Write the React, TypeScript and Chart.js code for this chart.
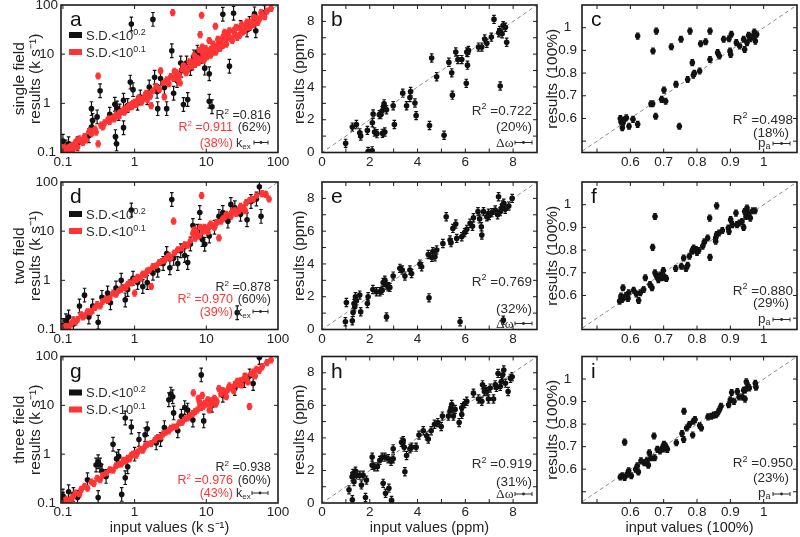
import React, { useEffect, useRef } from 'react';
import { Chart, registerables } from 'chart.js';

Chart.register(...registerables);

const SANS = '"Liberation Sans", Arial, Helvetica, sans-serif';
const SERIF = '"Liberation Serif", "Times New Roman", serif';
const DARK = '#2b2b2b';
const RED = '#ff3434';
const BLACK = '#111111';

// ---------------- data (x, y[, error]) ----------------
// log panels: error in decades; linear panels: error in axis units
const A_BLACK = [[0.1,0.17],[0.11,0.13],[0.12,0.15],[0.16,0.15],[0.23,0.22],[0.25,0.33],[0.26,0.45],[0.25,0.78],[0.3,0.53],[0.33,1.8],[0.45,0.6],[0.53,0.96],[0.54,0.21],[0.56,0.15],[0.57,0.8],[0.6,0.62],[0.62,0.7],[0.7,0.32],[0.7,1.15],[0.8,0.9],[0.87,2.7],[0.9,41],[0.95,1.9],[1.1,1.0],[1.2,1.35],[1.5,1.3],[1.6,2.15],[1.8,51],[1.9,3.4],[2.06,1.75],[2.1,0.78],[2.3,3.2],[2.6,2.1],[2.8,0.78],[3.3,11.7],[3.5,1.6],[3.9,2.9],[4.4,6.6],[4.5,4.7],[4.8,0.95],[5.3,6.6],[5.5,1.2],[6.0,5.1],[6.4,6.6],[6.7,8.8],[7.5,11],[8.5,9],[9.5,5.2],[11,4],[11,1.1],[12,0.85],[17,65],[21,5.7],[24,68],[30,35],[37,31],[40,42],[47,66],[49,30],[65,70]];
const A_RED = [[0.1,0.11],[0.105,0.13],[0.11,0.1],[0.12,0.12],[0.12,0.13],[0.13,0.14],[0.135,0.11],[0.14,0.12],[0.15,0.16],[0.155,0.17],[0.16,0.13],[0.17,0.19],[0.18,0.17],[0.19,0.16],[0.2,0.21],[0.21,0.18],[0.23,0.26],[0.24,0.28],[0.25,0.24],[0.28,0.3],[0.29,0.26],[0.31,3.6],[0.31,0.15],[0.34,0.36],[0.36,0.33],[0.38,0.4],[0.42,0.45],[0.44,0.5],[0.45,0.43],[0.5,0.52],[0.52,0.48],[0.55,0.58],[0.6,0.56],[0.62,0.66],[0.65,0.68],[0.7,0.72],[0.72,0.66],[0.75,0.8],[0.8,0.78],[0.82,0.88],[0.85,0.9],[0.9,0.95],[0.92,0.85],[0.95,1.0],[1.0,1.05],[1.05,0.95],[1.1,1.15],[1.15,1.3],[1.2,1.1],[1.25,1.05],[1.3,1.25],[1.4,1.45],[1.45,1.6],[1.5,1.2],[1.6,1.55],[1.65,1.4],[1.7,0.9],[1.8,1.8],[2.0,2.2],[2.2,1.9],[2.3,4.6],[2.5,2.6],[2.6,1.35],[2.8,3.0],[3.0,2.5],[3.2,3.5],[3.4,70],[3.5,3.2],[3.6,4.5],[3.8,4.2],[4.0,3.0],[4.2,3.6],[4.3,2.6],[4.6,4.8],[4.8,6.0],[5.0,5.5],[5.2,4.2],[5.5,4.8],[5.8,7.0],[6.0,6.5],[6.2,5.5],[6.5,7.2],[6.8,9.5],[7.0,6.2],[7.2,7.8],[7.5,8.5],[7.8,6.8],[8.0,12],[8.2,25],[8.5,8.0],[8.6,62],[8.8,14],[9.0,10],[9.2,7.5],[9.5,9.0],[9.8,13],[10,11.5],[10.2,8.8],[10.5,10],[11,19],[11.5,12.5],[11.5,9.5],[12,11],[12.5,16],[13,14],[13.4,37],[13.5,11],[14,13],[14.5,20],[15,16],[15.5,13],[16,18],[17,15],[17,22],[18,28],[19,20],[19,16],[20,24],[21,30],[22,21],[23,19],[24,30],[25,26],[26,35],[27,22],[29,24],[30,33],[31,40],[32,28],[34,30],[35,38],[37,45],[38,34],[41,36],[42,45],[45,40],[46,58],[50,55],[52,44],[55,52],[58,70],[60,63],[65,58],[70,75],[80,85]];

const D_BLACK = [[0.1,0.12],[0.11,0.15],[0.12,0.18],[0.14,0.13],[0.17,0.3],[0.2,0.5],[0.23,0.18],[0.26,0.3],[0.31,0.14],[0.35,0.45],[0.42,0.55],[0.46,0.35],[0.55,0.7],[0.65,1.0],[0.74,0.4],[0.8,0.65],[0.9,27],[0.95,1.1],[1.1,0.9],[1.3,0.75],[1.5,0.9],[1.8,1.4],[2.1,1.6],[2.5,2.2],[2.8,3.5],[3.1,1.8],[3.3,44],[3.5,2.8],[4.0,2.2],[4.4,4.0],[5.0,3.2],[5.5,2.3],[6.0,5.5],[6.5,13],[7.5,10],[8.1,24],[8.8,6.8],[9.5,5.4],[11,8],[13,12],[15,20],[17,24],[20,16],[22,35],[25,30],[27,0.22],[30,22],[37,17],[42,40],[50,45],[55,80],[58,20]];
const D_RED = [[0.1,0.11],[0.11,0.12],[0.115,0.1],[0.12,0.11],[0.13,0.13],[0.14,0.15],[0.15,0.14],[0.16,0.16],[0.18,0.2],[0.19,0.18],[0.2,0.19],[0.22,0.23],[0.24,0.22],[0.25,0.24],[0.28,0.28],[0.3,0.32],[0.33,0.3],[0.36,0.38],[0.4,0.42],[0.42,0.39],[0.45,0.44],[0.5,0.55],[0.55,0.52],[0.6,0.62],[0.65,0.66],[0.7,0.72],[0.75,0.7],[0.8,0.82],[0.85,0.9],[0.9,0.88],[1.0,0.55],[1.0,1.05],[1.05,1.0],[1.1,1.15],[1.2,1.1],[1.3,1.35],[1.4,1.3],[1.5,1.55],[1.6,1.6],[1.7,0.75],[1.8,1.9],[2.0,1.95],[2.2,2.3],[2.4,2.4],[2.6,2.5],[2.8,2.9],[3.0,3.2],[3.2,2.9],[3.5,16],[3.6,3.6],[4.0,4.2],[4.5,4.4],[5.0,5.3],[5.5,5.2],[6.0,6.3],[6.5,9],[6.8,11],[7.0,7.2],[7.2,10],[7.5,8.5],[8.0,8.0],[8.3,12],[8.6,53],[9.0,10],[9.5,12],[10,11],[10.5,9.5],[11,12.5],[11.5,14],[12,13],[13,12],[14,15],[15,7.3],[16,16],[17,18],[18,19],[19,22],[20,21],[22,20],[23,25],[25,27],[26,23],[28,25],[30,32],[31,28],[33,30],[35,26],[36,38],[40,42],[45,44],[50,52],[60,58],[68,56],[75,45]];

const G_BLACK = [[0.1,0.14],[0.1,0.12],[0.12,0.17],[0.14,0.15],[0.16,0.13],[0.22,0.3],[0.29,0.6],[0.31,0.7],[0.31,0.13],[0.33,0.6],[0.35,0.45],[0.4,0.35],[0.5,1.6],[0.56,0.8],[0.6,0.9],[0.66,0.15],[0.74,5.5],[0.74,0.33],[0.8,0.55],[0.9,3.6],[1.0,1.0],[1.15,2.0],[1.4,2.5],[1.5,3.3],[2.0,1.7],[2.3,2.0],[2.6,3.5],[3.0,13],[3.2,17],[3.4,15],[3.5,7],[4.0,3.0],[4.5,6],[5.0,9],[5.5,8],[6.5,5],[8.5,42],[9.2,4.8],[12,10],[17,16],[25,22],[34,32],[40,40],[45,28],[55,95]];
const G_RED = [[0.1,0.1],[0.11,0.12],[0.12,0.11],[0.13,0.12],[0.14,0.14],[0.15,0.16],[0.17,0.15],[0.18,0.19],[0.2,0.22],[0.22,0.2],[0.25,0.27],[0.27,0.25],[0.3,0.32],[0.33,0.3],[0.36,0.38],[0.4,0.4],[0.45,0.48],[0.5,0.47],[0.55,0.58],[0.6,0.62],[0.65,0.63],[0.7,0.75],[0.75,0.72],[0.8,0.82],[0.85,0.8],[0.9,0.95],[0.95,1.0],[1.0,1.02],[1.05,0.95],[1.1,1.1],[1.2,1.25],[1.3,1.2],[1.4,1.45],[1.5,1.6],[1.7,1.65],[1.9,1.9],[2.1,2.2],[2.3,2.2],[2.5,2.6],[2.7,2.8],[3.0,3.0],[3.2,3.4],[3.5,3.6],[3.8,3.6],[4.2,4.4],[4.6,4.5],[5.0,5.3],[5.5,5.5],[6.0,6.2],[6.6,18],[6.5,6.8],[7.0,7.5],[7.5,8],[7.8,14],[8.0,12],[8.2,10],[8.5,9],[8.8,16],[9,9.5],[9.5,11],[10,10.5],[10.5,13],[11,8],[11.5,10],[12,12.5],[13,14],[13.5,10.5],[14,12],[15,22],[16,17],[17,20],[18,19],[19,15],[20,21],[21,25],[22,23],[24,20],[25,26],[27,31],[28,27],[30,32],[31,26],[33,34],[35,40],[36,35],[38,30],[40,9.5],[42,44],[45,48],[48,40],[50,55],[55,52],[60,62],[70,75],[80,85]];

const B_PTS = [[0.99,0.56],[1.27,1.55],[1.44,1.71],[1.58,1.2],[1.62,1.0],[1.9,1.35],[1.93,0.06],[2.1,0.1],[2.11,1.81],[2.14,2.35],[2.2,1.25],[2.3,1.15],[2.4,2.31],[2.46,2.31],[2.52,2.55],[2.58,2.81],[2.6,2.97],[2.63,1.25],[2.53,1.17],[2.7,2.61],[2.98,2.85],[3.03,1.71],[3.38,3.62],[3.54,2.85],[3.68,3.36],[3.71,3.72],[3.89,3.02],[3.94,2.25],[4.5,1.65],[4.59,5.77],[4.8,4.62],[5.11,1.05],[5.31,5.51],[5.43,4.86],[5.46,3.5],[5.6,6.13],[5.69,5.67],[5.85,5.67],[6.04,4.22],[6.06,6.13],[6.09,5.33],[6.13,6.23],[6.55,6.43],[6.69,6.43],[6.81,6.93],[6.9,6.67],[7.09,7.04],[7.2,8.12],[7.44,7.44],[7.46,4.06],[7.54,7.24],[7.58,7.74],[7.68,7.64],[7.73,6.73],[7.4,7.3],[6.1,6.1]];
const C_PTS = [[0.622,0.963],[0.668,0.897],[0.678,0.985],[0.723,0.916],[0.752,0.949],[0.779,0.985],[0.811,0.929],[0.826,0.938],[0.839,0.985],[0.839,0.86],[0.862,0.89],[0.867,0.875],[0.88,0.949],[0.896,0.951],[0.899,0.897],[0.901,0.882],[0.903,0.971],[0.918,0.934],[0.928,0.919],[0.94,0.949],[0.943,0.904],[0.95,0.934],[0.955,0.966],[0.96,0.951],[0.972,0.981],[0.975,0.941],[0.979,0.971],[0.786,0.846],[0.792,0.799],[0.789,0.791],[0.808,0.809],[0.772,0.772],[0.737,0.75],[0.701,0.725],[0.706,0.676],[0.694,0.684],[0.662,0.665],[0.667,0.665],[0.676,0.61],[0.747,0.566],[0.622,0.574],[0.608,0.596],[0.596,0.566],[0.581,0.593],[0.578,0.581],[0.576,0.559],[0.588,0.603],[0.572,0.585],[0.57,0.6],[0.966,0.96]];
const E_PTS = [[0.98,0.47],[1.02,1.65],[1.27,0.53],[1.3,1.04],[1.34,1.59],[1.4,2.0],[1.44,1.75],[1.37,1.38],[1.58,2.1],[1.62,1.08],[1.9,1.59],[1.93,2.0],[2.13,2.44],[2.28,2.3],[2.42,2.3],[2.52,2.4],[2.56,2.87],[2.63,3.01],[2.7,2.71],[2.77,2.61],[2.84,2.57],[2.7,0.77],[2.98,3.26],[3.26,3.73],[3.36,3.63],[3.47,3.26],[3.68,3.63],[3.75,3.42],[4.1,3.99],[4.17,3.83],[4.48,1.93],[4.45,4.58],[4.64,4.75],[4.73,4.44],[4.8,4.85],[5.06,5.25],[5.2,6.88],[5.36,5.46],[5.48,6.17],[5.6,6.44],[5.64,5.56],[5.78,0.47],[5.85,5.66],[5.97,5.91],[6.06,6.11],[6.2,6.48],[6.34,6.82],[6.53,7.19],[6.67,6.27],[6.69,5.76],[6.76,7.19],[6.9,6.88],[6.97,7.09],[7.11,7.13],[7.25,7.29],[7.39,8.1],[7.46,7.19],[7.56,7.6],[7.61,7.7],[7.51,7.39],[7.59,0.57],[7.82,7.54],[7.96,8.0],[7.67,7.33],[6.6,6.75],[7.0,6.95],[7.35,7.0],[5.4,5.3],[6.3,6.3],[4.6,4.4]];
const F_PTS = [[0.674,0.948],[0.667,0.812],[0.859,0.995],[0.838,0.941],[0.839,0.768],[0.578,0.634],[0.572,0.597],[0.575,0.582],[0.58,0.59],[0.593,0.587],[0.595,0.612],[0.61,0.623],[0.618,0.607],[0.625,0.578],[0.63,0.612],[0.64,0.626],[0.645,0.678],[0.659,0.648],[0.665,0.634],[0.674,0.7],[0.679,0.685],[0.684,0.67],[0.694,0.678],[0.699,0.71],[0.703,0.68],[0.708,0.675],[0.736,0.719],[0.753,0.729],[0.76,0.765],[0.767,0.719],[0.772,0.733],[0.777,0.773],[0.785,0.795],[0.79,0.809],[0.797,0.802],[0.805,0.798],[0.817,0.817],[0.822,0.836],[0.832,0.853],[0.856,0.853],[0.856,0.839],[0.859,0.868],[0.866,0.875],[0.876,0.886],[0.894,0.897],[0.896,0.882],[0.901,0.934],[0.906,0.912],[0.917,0.963],[0.92,0.912],[0.927,0.919],[0.935,0.926],[0.94,0.9],[0.943,0.97],[0.947,0.948],[0.95,0.985],[0.955,0.963],[0.96,0.941],[0.967,0.973],[0.974,0.973],[0.568,0.575],[0.587,0.6],[0.69,0.69],[0.787,0.8],[0.8,0.79]];
const H_PTS = [[1.13,0.81],[1.27,0.2],[1.26,1.61],[1.3,1.81],[1.34,1.31],[1.4,1.96],[1.44,1.71],[1.58,1.71],[1.65,1.11],[1.72,1.71],[1.86,1.41],[1.82,0.34],[2.1,2.82],[2.1,2.32],[2.21,2.22],[2.32,2.22],[2.42,2.62],[2.52,2.82],[2.56,1.21],[2.63,2.82],[2.66,0.6],[2.77,2.72],[2.8,0.91],[2.89,2.56],[2.91,0.16],[2.98,3.33],[2.98,2.72],[3.33,3.73],[3.4,3.83],[3.44,3.43],[3.47,1.92],[3.54,2.92],[3.68,3.33],[3.75,3.43],[3.94,3.43],[4.06,4.17],[4.24,4.44],[4.38,4.13],[4.45,3.93],[4.57,4.44],[4.71,4.84],[4.85,4.94],[4.99,4.7],[5.04,5.34],[5.29,5.34],[5.36,5.65],[5.43,6.05],[5.5,5.34],[5.57,5.75],[5.74,4.94],[5.85,5.44],[5.85,5.85],[5.97,6.11],[6.06,6.25],[6.34,6.75],[6.55,6.39],[6.69,6.25],[6.72,7.26],[6.83,6.96],[6.9,6.85],[6.97,6.39],[7.04,7.06],[7.18,6.39],[7.25,7.26],[7.37,7.96],[7.46,7.16],[7.51,7.46],[7.56,7.86],[7.61,8.17],[7.68,7.36],[7.79,6.85],[7.89,7.66],[7.96,7.76],[6.8,6.85],[7.3,7.1],[5.4,5.8]];
const I_PTS = [[0.583,0.72],[0.576,0.571],[0.583,0.563],[0.591,0.578],[0.595,0.593],[0.603,0.571],[0.616,0.6],[0.621,0.615],[0.624,0.588],[0.632,0.637],[0.642,0.629],[0.654,0.618],[0.657,0.673],[0.662,0.651],[0.671,0.747],[0.673,0.651],[0.681,0.688],[0.689,0.681],[0.696,0.695],[0.701,0.71],[0.706,0.703],[0.711,0.688],[0.738,0.717],[0.755,0.758],[0.76,0.732],[0.761,0.857],[0.769,0.783],[0.777,0.798],[0.787,0.752],[0.789,0.813],[0.794,0.82],[0.808,0.794],[0.813,0.783],[0.833,0.832],[0.843,0.835],[0.857,0.842],[0.862,0.849],[0.867,0.864],[0.872,0.879],[0.895,0.886],[0.9,0.908],[0.904,0.94],[0.911,0.901],[0.921,0.945],[0.926,0.92],[0.936,0.92],[0.944,0.911],[0.945,0.952],[0.948,0.988],[0.953,0.97],[0.957,0.96],[0.975,0.981],[0.977,0.964],[0.57,0.565],[0.65,0.64],[0.7,0.69],[0.85,0.84],[0.94,0.95]];

const LOG_TICKS = [0.1, 1, 10, 100];
const LOG_LABELS = ['0.1', '1', '10', '100'];
const PPM_TICKS = [1, 2, 3, 4, 5, 6, 7, 8, 0];
const PPM_LABELS = ['', '2', '', '4', '', '6', '', '8', '0'];
const PA_TICKS = [0.5, 0.6, 0.7, 0.8, 0.9, 1.0];
const PA_LABELS = ['', '0.6', '0.7', '0.8', '0.9', '1'];

const ERR_BLACK_LOG = 0.14;
const ERR_RED_LOG = 0.06;
const ERR_PPM = 0.25;
const ERR_PA = 0.013;

// ---------------- layout ----------------
const COLS = [{ L: 61, R: 278 }, { L: 322, R: 537 }, { L: 582, R: 797 }];
const ROWS = [{ T: 5, B: 152.5 }, { T: 182, B: 329.5 }, { T: 356.5, B: 503 }];
const Y_W = [61, 42, 42];
const Y_TITLE_PAD = [12.2, 12.2, 5.2];
const Y_TICK_PAD = [3, 7.4, 5];

const KIND = {
  log: { type: 'logarithmic', x: [0.094, 100], y: [0.1, 100], ticks: LOG_TICKS, labels: LOG_LABELS, diag: [0.01, 1000], note: 12.5 },
  ppm: { type: 'linear', x: [0, 9], y: [0, 9], ticks: PPM_TICKS, labels: PPM_LABELS, diag: [-1, 10], note: 13.5 },
  pa: { type: 'linear', x: [0.455, 1.1], y: [0.45, 1.1], ticks: PA_TICKS, labels: PA_LABELS, diag: [0.3, 1.3], note: 13.5 },
} as any;

type Seg = { t: string; c?: string; sup?: boolean; sub?: boolean; serif?: boolean };
type Note = { segs: Seg[]; dx: number; dy: number; align: 'left' | 'right' };

const r2 = (v: string, c: string): Seg[] => [{ t: 'R', c }, { t: '2', c, sup: true }, { t: ' =' + v, c }];

const logNotes = (dark: string, red: string, pd: string, pr: string, d: number[]): Note[] => [
  { segs: r2(dark, DARK), dx: 7, dy: d[0], align: 'right' },
  { segs: r2(red, RED), dx: 45, dy: d[1], align: 'right' },
  { segs: [{ t: pd, c: DARK }], dx: 7, dy: d[1], align: 'right' },
  { segs: [{ t: pr, c: RED }], dx: 45, dy: d[2], align: 'right' },
  { segs: [{ t: 'k', c: DARK }, { t: 'ex', c: DARK, sub: true }], dx: 42, dy: d[2], align: 'left' },
];
const ppmNotes = (v: string, pc: string, d: number[]): Note[] => [
  { segs: r2(v, DARK), dx: 5, dy: d[0], align: 'right' },
  { segs: [{ t: pc, c: DARK }], dx: 5, dy: d[1], align: 'right' },
  { segs: [{ t: 'Δω', c: DARK, serif: true }], dx: 41, dy: d[2], align: 'left' },
];
const paNotes = (v: string, pc: string, d: number[]): Note[] => [
  { segs: r2(v, DARK), dx: 4, dy: d[0], align: 'right' },
  { segs: [{ t: pc, c: DARK }], dx: 8, dy: d[1], align: 'right' },
  { segs: [{ t: 'p', c: DARK }, { t: 'a', c: DARK, sub: true }], dx: 39, dy: d[2], align: 'left' },
];

const K_TITLE = 'results (k s⁻¹)';
const PANELS = [
  { row: 0, col: 0, kind: 'log', letter: 'a', yTitle: ['single field', K_TITLE], black: A_BLACK, red: A_RED, notes: logNotes('0.816', '0.911', '(62%)', '(38%)', [34, 22, 6]), glyph: [24, 10, 10], legendDy: 27 },
  { row: 0, col: 1, kind: 'ppm', letter: 'b', yTitle: 'results (ppm)', black: B_PTS, notes: ppmNotes('0.722', '(20%)', [38, 22, 6]), glyph: [22, 5, 10] },
  { row: 0, col: 2, kind: 'pa', letter: 'c', yTitle: 'results (100%)', black: C_PTS, notes: paNotes('0.498', '(18%)', [29, 16, 6]), glyph: [24, 7, 9] },
  { row: 1, col: 0, kind: 'log', letter: 'd', yTitle: ['two field', K_TITLE], black: D_BLACK, red: D_RED, notes: logNotes('0.878', '0.970', '(60%)', '(39%)', [39, 27, 14]), glyph: [25, 10, 18], legendDy: 29 },
  { row: 1, col: 1, kind: 'ppm', letter: 'e', yTitle: 'results (ppm)', black: E_PTS, notes: ppmNotes('0.769', '(32%)', [44, 17, 2]), glyph: [22, 5, 6] },
  { row: 1, col: 2, kind: 'pa', letter: 'f', yTitle: 'results (100%)', black: F_PTS, notes: paNotes('0.880', '(29%)', [35, 23, 7]), glyph: [24, 7, 10] },
  { row: 2, col: 0, kind: 'log', letter: 'g', yTitle: ['three field', K_TITLE], black: G_BLACK, red: G_RED, notes: logNotes('0.938', '0.976', '(60%)', '(43%)', [32, 19, 6]), glyph: [26, 10, 10], legendDy: 33, xTitle: 'input values (k s⁻¹)' },
  { row: 2, col: 1, kind: 'ppm', letter: 'h', yTitle: 'results (ppm)', black: H_PTS, notes: ppmNotes('0.919', '(31%)', [35, 17, 5]), glyph: [22, 5, 9], xTitle: 'input values (ppm)' },
  { row: 2, col: 2, kind: 'pa', letter: 'i', yTitle: 'results (100%)', black: I_PTS, notes: paNotes('0.950', '(23%)', [36, 21, 6]), glyph: [24, 7, 9], xTitle: 'input values (100%)' },
] as any[];

function drawRich(ctx: CanvasRenderingContext2D, segs: Seg[], x: number, y: number, align: string, size: number) {
  const fontFor = (s: Seg) => `${s.sup || s.sub ? Math.round(size * 0.66) : size}px ${s.serif ? SERIF : SANS}`;
  let total = 0;
  for (const s of segs) { ctx.font = fontFor(s); total += ctx.measureText(s.t).width; }
  let cx = align === 'right' ? x - total : x;
  ctx.textAlign = 'left';
  ctx.textBaseline = 'alphabetic';
  for (const s of segs) {
    ctx.font = fontFor(s);
    ctx.fillStyle = s.c || DARK;
    const dy = s.sup ? -size * 0.38 : s.sub ? size * 0.18 : 0;
    ctx.fillText(s.t, cx, y + dy);
    cx += ctx.measureText(s.t).width;
  }
}

function makePlugin(p: any) {
  const k = KIND[p.kind];
  return {
    id: 'decor' + p.letter,
    beforeDatasetsDraw(chart: any) {
      const { ctx, chartArea: ca } = chart;
      const xs = chart.scales.x, ys = chart.scales.y;
      ctx.save();
      ctx.beginPath();
      ctx.rect(ca.left, ca.top, ca.right - ca.left, ca.bottom - ca.top);
      ctx.clip();
      chart.data.datasets.forEach((ds: any) => {
        if (!ds.errKind) return;
        ctx.strokeStyle = ds.backgroundColor;
        ctx.lineWidth = 1.2;
        ctx.beginPath();
        for (const pt of ds.data) {
          const lo = ds.errKind === 'log' ? pt.y / Math.pow(10, pt.e) : pt.y - pt.e;
          const hi = ds.errKind === 'log' ? pt.y * Math.pow(10, pt.e) : pt.y + pt.e;
          const px = xs.getPixelForValue(pt.x);
          const y1 = ys.getPixelForValue(lo), y2 = ys.getPixelForValue(hi);
          ctx.moveTo(px, y1); ctx.lineTo(px, y2);
          ctx.moveTo(px - 1.8, y1); ctx.lineTo(px + 1.8, y1);
          ctx.moveTo(px - 1.8, y2); ctx.lineTo(px + 1.8, y2);
        }
        ctx.stroke();
      });
      ctx.restore();
    },
    afterDraw(chart: any) {
      const { ctx, chartArea: ca } = chart;
      const xs = chart.scales.x, ys = chart.scales.y;
      ctx.save();
      ctx.strokeStyle = '#1c1c1c';
      ctx.lineWidth = 1.6;
      ctx.strokeRect(ca.left, ca.top, ca.right - ca.left, ca.bottom - ca.top);
      ctx.lineWidth = 1;
      ctx.beginPath();
      const TL = 4;
      for (const v of k.ticks) {
        const px = xs.getPixelForValue(v);
        if (px > ca.left + 1.5 && px < ca.right - 1.5) {
          ctx.moveTo(px, ca.bottom); ctx.lineTo(px, ca.bottom - TL);
          ctx.moveTo(px, ca.top); ctx.lineTo(px, ca.top + TL);
        }
        const py = ys.getPixelForValue(v);
        if (py > ca.top + 1.5 && py < ca.bottom - 1.5) {
          ctx.moveTo(ca.left, py); ctx.lineTo(ca.left + TL, py);
          ctx.moveTo(ca.right, py); ctx.lineTo(ca.right - TL, py);
        }
      }
      ctx.stroke();
      ctx.fillStyle = '#111';
      ctx.font = `21px ${SANS}`;
      ctx.textAlign = 'left';
      ctx.textBaseline = 'alphabetic';
      ctx.fillText(p.letter, ca.left + 9, ca.top + 21);
      if (p.kind === 'log') {
        const items = [{ c: BLACK, s: '0.2' }, { c: RED, s: '0.1' }];
        items.forEach((it, i) => {
          const ty = ca.top + p.legendDy + i * 17;
          ctx.fillStyle = it.c;
          ctx.fillRect(ca.left + 8, ty, 13, 6);
          drawRich(ctx, [{ t: 'S.D.<10', c: DARK }, { t: it.s, c: DARK, sup: true }], ca.left + 25, ty + 7.5, 'left', 13);
        });
      }
      for (const n of p.notes) {
        drawRich(ctx, n.segs, ca.right - n.dx, ca.bottom - n.dy, n.align, k.note);
      }
      const [g0, g1, gdy] = p.glyph;
      const gx0 = ca.right - g0, gx1 = ca.right - g1, gy = ca.bottom - gdy;
      ctx.strokeStyle = DARK;
      ctx.fillStyle = DARK;
      ctx.lineWidth = 1;
      ctx.beginPath();
      ctx.moveTo(gx0, gy); ctx.lineTo(gx1, gy);
      ctx.moveTo(gx0, gy - 2); ctx.lineTo(gx0, gy + 2);
      ctx.moveTo(gx1, gy - 2); ctx.lineTo(gx1, gy + 2);
      ctx.stroke();
      ctx.beginPath();
      ctx.arc((gx0 + gx1) / 2, gy, 1.4, 0, Math.PI * 2);
      ctx.fill();
      ctx.restore();
    },
  };
}

function buildConfig(p: any) {
  const k = KIND[p.kind];
  const col = COLS[p.col], row = ROWS[p.row];
  const yW = Y_W[p.col];
  const xH = p.row === 2 ? 34 : 22;
  const isLog = p.kind === 'log';
  const defErr = isLog ? ERR_BLACK_LOG : p.kind === 'ppm' ? ERR_PPM : ERR_PA;
  const toPts = (arr: number[][], e: number) => arr.map((a) => ({ x: a[0], y: a[1], e: a[2] ?? e }));
  const datasets: any[] = [
    {
      data: [{ x: k.diag[0], y: k.diag[0] }, { x: k.diag[1], y: k.diag[1] }],
      showLine: true, borderColor: '#8c8c8c', borderWidth: 1, borderDash: [4, 3],
      pointRadius: 0, pointHoverRadius: 0, order: 10,
    },
    {
      data: toPts(p.black, defErr), backgroundColor: BLACK, borderWidth: 0,
      pointRadius: 2.8, pointHoverRadius: 2.8, errKind: isLog ? 'log' : 'lin', order: 2,
    },
  ];
  if (p.red) {
    datasets.push({
      data: toPts(p.red, ERR_RED_LOG), backgroundColor: RED, borderWidth: 0,
      pointRadius: 2.9, pointHoverRadius: 2.9, errKind: 'log', order: 1,
    });
  }
  const tickFont = { family: SANS, size: 13.5 };
  const setTicks = (s: any) => { s.ticks = k.ticks.map((v: number) => ({ value: v })); };
  const labelFor = (_v: any, i: number) => k.labels[i];
  return {
    type: 'scatter',
    data: { datasets },
    plugins: [makePlugin(p)],
    options: {
      responsive: false,
      animation: false,
      events: [],
      layout: { padding: { left: col.L - yW, top: row.T, right: 800 - col.R, bottom: 537 - row.B - xH } },
      plugins: { legend: { display: false }, tooltip: { enabled: false } },
      scales: {
        x: {
          type: k.type, min: k.x[0], max: k.x[1],
          afterBuildTicks: setTicks,
          afterFit: (s: any) => { s.height = xH; s.paddingLeft = 0; s.paddingRight = 0; },
          grid: { display: false, drawTicks: false },
          border: { display: false },
          ticks: { callback: labelFor, autoSkip: false, maxRotation: 0, minRotation: 0, padding: 1.5, color: '#222', font: tickFont },
          title: p.xTitle
            ? { display: true, text: p.xTitle, color: '#222', font: { family: SANS, size: 14.5, lineHeight: 1.15 }, padding: { top: 0, bottom: 1 } }
            : { display: false },
        },
        y: {
          type: k.type, min: k.y[0], max: k.y[1],
          afterBuildTicks: setTicks,
          afterFit: (s: any) => { s.width = yW; s.paddingTop = 0; s.paddingBottom = 0; },
          grid: { display: false, drawTicks: false },
          border: { display: false },
          ticks: { callback: labelFor, autoSkip: false, crossAlign: 'center', padding: Y_TICK_PAD[p.col], color: '#222', font: tickFont },
          title: { display: true, text: p.yTitle, color: '#222', font: { family: SANS, size: 15.5, lineHeight: 1.0 }, padding: { top: Y_TITLE_PAD[p.col], bottom: 0 } },
        },
      },
    },
  } as any;
}

export default function App() {
  const refs = useRef<(HTMLCanvasElement | null)[]>([]);
  useEffect(() => {
    const charts = PANELS.map((p, i) => new Chart(refs.current[i] as HTMLCanvasElement, buildConfig(p)));
    return () => charts.forEach((c) => c.destroy());
  }, []);
  return (
    <div style={{ position: 'fixed', left: 0, top: 0, width: 800, height: 537, background: '#fff', overflow: 'hidden' }}>
      {PANELS.map((p, i) => (
        <canvas
          key={i}
          ref={(el) => { refs.current[i] = el; }}
          width={800}
          height={537}
          style={{ position: 'absolute', left: 0, top: 0, width: 800, height: 537 }}
        />
      ))}
    </div>
  );
}
